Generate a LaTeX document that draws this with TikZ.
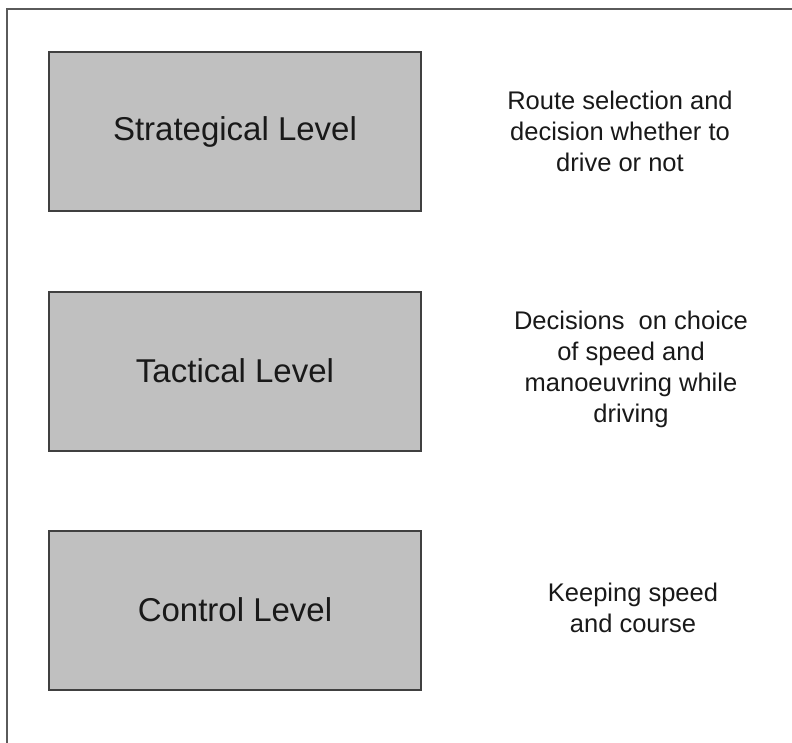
\documentclass[tikz,border=0pt]{standalone}
\usepackage{fontspec}
\setmainfont{Liberation Sans}
\definecolor{boxfill}{HTML}{C0C0C0}
\definecolor{boxline}{HTML}{404040}
\definecolor{frameline}{HTML}{5A5A5A}
\begin{document}
\begin{tikzpicture}[x=1pt,y=-1pt,
  levelbox/.style={draw=boxline,line width=2pt,fill=boxfill,minimum width=372pt,minimum height=159pt,inner sep=0pt,
    font=\fontsize{33}{38}\selectfont,text=black!90},
  desc/.style={align=center,font=\fontsize{25.5}{31}\selectfont,text=black!90,inner sep=0pt}]
\useasboundingbox (0,0) rectangle (792,743);
\draw[frameline,line width=1.6pt] (7,743) -- (7,9) -- (792,9);
\node[levelbox] (strat) at (235,132) {Strategical Level};
\node[levelbox] (tact) at (235,371) {Tactical Level};
\node[levelbox] (ctrl) at (235,610) {Control Level};
\node[desc] (d1) at (620,131) {Route selection and\\decision whether to\\drive or not};
\node[desc] (d2) at (631,369) {Decisions\ \ on choice\\of speed and\\manoeuvring while\\driving};
\node[desc] (d3) at (633,608) {Keeping speed\\and course};
\end{tikzpicture}
\end{document}
